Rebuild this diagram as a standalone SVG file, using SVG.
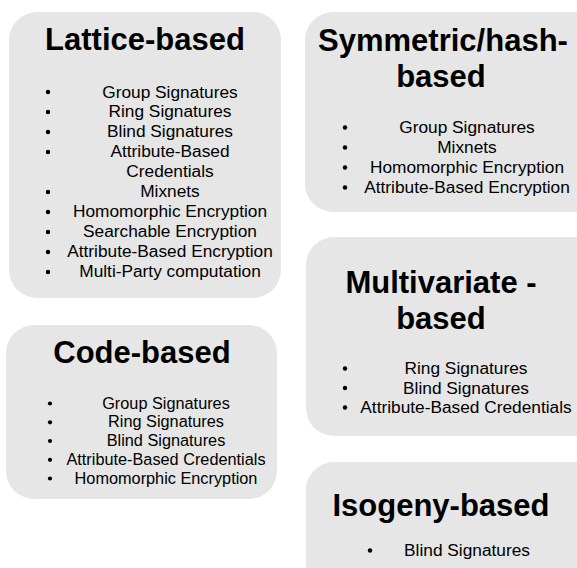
<svg xmlns="http://www.w3.org/2000/svg" width="577" height="568" viewBox="0 0 577 568">
  <style>
    .card { fill: #e6e6e6; }
    .title { font-family: "Liberation Sans", Arial, sans-serif; font-weight: bold; font-size: 31px; fill: #000; text-anchor: middle; }
    .item { font-family: "Liberation Sans", Arial, sans-serif; font-size: 17.3px; fill: #000; text-anchor: middle; }
    .item.small { font-size: 16.3px; }
    .dot { fill: #000; }
  </style>
  <rect width="577" height="568" fill="#ffffff"/>

  <!-- Lattice-based family -->
  <g id="lattice">
    <rect class="card" x="9" y="12" width="272" height="286" rx="28"/>
    <text class="title" x="145" y="50">Lattice-based</text>
    <g class="dot">
      <circle cx="48" cy="92" r="2.2"/>
      <circle cx="48" cy="112" r="2.2"/>
      <circle cx="48" cy="132" r="2.2"/>
      <circle cx="48" cy="152" r="2.2"/>
      <circle cx="48" cy="192" r="2.2"/>
      <circle cx="48" cy="212" r="2.2"/>
      <circle cx="48" cy="232" r="2.2"/>
      <circle cx="48" cy="252" r="2.2"/>
      <circle cx="48" cy="272" r="2.2"/>
    </g>
    <text class="item" x="170" y="97.5">Group Signatures</text>
    <text class="item" x="170" y="117.4">Ring Signatures</text>
    <text class="item" x="170" y="137.3">Blind Signatures</text>
    <text class="item" x="170" y="157.3">Attribute-Based</text>
    <text class="item" x="170" y="177.2">Credentials</text>
    <text class="item" x="170" y="197.1">Mixnets</text>
    <text class="item" x="170" y="217.1">Homomorphic Encryption</text>
    <text class="item" x="170" y="237">Searchable Encryption</text>
    <text class="item" x="170" y="256.9">Attribute-Based Encryption</text>
    <text class="item" x="170" y="276.8">Multi-Party computation</text>
  </g>

  <!-- Symmetric / hash-based family -->
  <g id="symmetric">
    <rect class="card" x="305" y="12" width="300" height="200" rx="28"/>
    <text class="title" x="443" y="51">Symmetric/hash-</text>
    <text class="title" x="441" y="87">based</text>
    <g class="dot">
      <circle cx="345" cy="127.5" r="2.2"/>
      <circle cx="345" cy="147.5" r="2.2"/>
      <circle cx="345" cy="167.5" r="2.2"/>
      <circle cx="345" cy="187.5" r="2.2"/>
    </g>
    <text class="item" x="467" y="133">Group Signatures</text>
    <text class="item" x="467" y="153">Mixnets</text>
    <text class="item" x="467" y="173">Homomorphic Encryption</text>
    <text class="item" x="467" y="193">Attribute-Based Encryption</text>
  </g>

  <!-- Code-based family -->
  <g id="code">
    <rect class="card" x="6" y="325" width="271" height="174" rx="28"/>
    <text class="title" x="142" y="363">Code-based</text>
    <g class="dot">
      <circle cx="50" cy="403.5" r="2.1"/>
      <circle cx="50" cy="422.3" r="2.1"/>
      <circle cx="50" cy="441" r="2.1"/>
      <circle cx="50" cy="459.8" r="2.1"/>
      <circle cx="50" cy="478.5" r="2.1"/>
    </g>
    <text class="item small" x="166" y="408.7">Group Signatures</text>
    <text class="item small" x="166" y="427.4">Ring Signatures</text>
    <text class="item small" x="166" y="446.2">Blind Signatures</text>
    <text class="item small" x="166" y="465">Attribute-Based Credentials</text>
    <text class="item small" x="166" y="483.7">Homomorphic Encryption</text>
  </g>

  <!-- Multivariate-based family -->
  <g id="multivariate">
    <rect class="card" x="306" y="237" width="300" height="199" rx="28"/>
    <text class="title" x="441" y="293">Multivariate -</text>
    <text class="title" x="441" y="329">based</text>
    <g class="dot">
      <circle cx="345" cy="368.5" r="2.2"/>
      <circle cx="345" cy="388" r="2.2"/>
      <circle cx="345" cy="407.5" r="2.2"/>
    </g>
    <text class="item" x="466" y="374">Ring Signatures</text>
    <text class="item" x="466" y="393.5">Blind Signatures</text>
    <text class="item" x="466" y="413">Attribute-Based Credentials</text>
  </g>

  <!-- Isogeny-based family -->
  <g id="isogeny">
    <rect class="card" x="306" y="462" width="300" height="140" rx="28"/>
    <text class="title" x="441" y="516">Isogeny-based</text>
    <circle class="dot" cx="370" cy="550.5" r="2.2"/>
    <text class="item" x="467" y="556">Blind Signatures</text>
  </g>

  <!-- no connectors in this diagram -->
  <g id="connectors"/>
</svg>
